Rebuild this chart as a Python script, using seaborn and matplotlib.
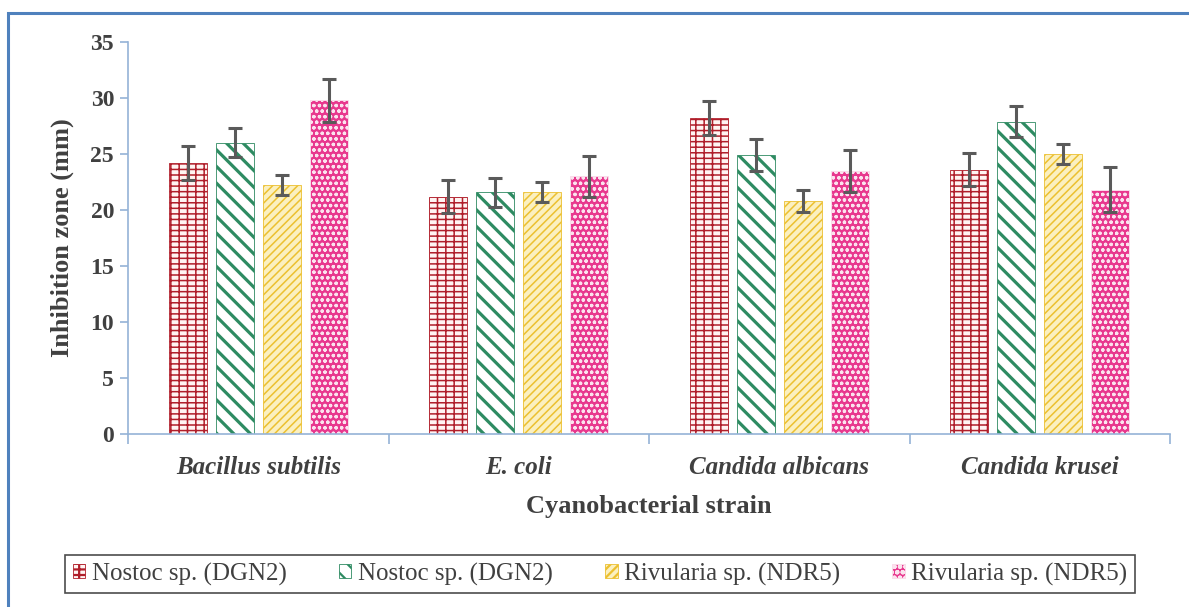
import pandas as pd
import matplotlib
matplotlib.use("Agg")
import matplotlib.pyplot as plt
import seaborn as sns
from matplotlib.patches import Rectangle

# --- datos ---
cepas = ["Bacillus subtilis", "E. coli", "Candida albicans", "Candida krusei"]
series = ["s1", "s2", "s3", "s4"]
etiquetas = ["Nostoc sp. (DGN2)", "Nostoc sp. (DGN2)",
             "Rivularia sp. (NDR5)", "Rivularia sp. (NDR5)"]

nostoc_a = [24.2, 21.2, 28.2, 23.6]
nostoc_b = [26.0, 21.6, 24.9, 27.9]
rivularia_a = [22.2, 21.6, 20.8, 25.0]
rivularia_b = [29.8, 23.0, 23.5, 21.8]

err_nostoc_a = [1.5, 1.5, 1.5, 1.5]
err_nostoc_b = [1.3, 1.3, 1.4, 1.4]
err_rivularia_a = [0.9, 0.9, 1.0, 0.9]
err_rivularia_b = [1.9, 1.8, 1.9, 2.0]

valores = [nostoc_a, nostoc_b, rivularia_a, rivularia_b]
errores = [err_nostoc_a, err_nostoc_b, err_rivularia_a, err_rivularia_b]

filas = []
for s, vals in zip(series, valores):
    for c, v in zip(cepas, vals):
        filas.append({"cepa": c, "serie": s, "valor": v})
datos = pd.DataFrame(filas)

# --- estilo ---
sns.set_style("white")
plt.rcParams["font.family"] = ["Liberation Serif", "DejaVu Serif"]
plt.rcParams["hatch.linewidth"] = 1.6

GRIS = "#404040"
AZUL_EJE = "#95B3D7"

# (face, hatch color, hatch, grosor de trama)
estilos = [
    ("#FFF4F2", "#B01E2A", "++-", 1.1),
    ("#FFFFFF", "#2E8B62", "\\\\", 2.3),
    ("#FBF0C0", "#ECC030", "////", 1.1),
    ("#E8388E", "#FBE3EE", "ooo", 0.9),
]

fig = plt.figure(figsize=(11.89, 6.07), dpi=100)
ax = fig.add_axes([128 / 1189, 1 - 434 / 607, (1170 - 128) / 1189, (434 - 42) / 607])

sns.barplot(data=datos, x="cepa", y="valor", hue="serie", order=cepas,
            hue_order=series, errorbar=None, width=0.72, gap=0.19,
            legend=False, ax=ax)

for cont, (face, hcol, hatch, hlw), errs, vals in zip(ax.containers, estilos, errores, valores):
    xs = []
    for bar in cont:
        bar.set_facecolor(face)
        bar.set_edgecolor(hcol)
        bar.set_hatch(hatch)
        if hasattr(bar, "set_hatch_linewidth"):
            bar.set_hatch_linewidth(hlw)
        bar.set_linewidth(0.6)
        xs.append(bar.get_x() + bar.get_width() / 2)
    ax.errorbar(xs, vals, yerr=errs, fmt="none", ecolor="#5A5A5A",
                elinewidth=2.2, capsize=5, capthick=2.2, zorder=5)

ax.set_xlim(-0.5, 3.5)
ax.set_ylim(0, 35)
ax.set_yticks(range(0, 36, 5))

for lado in ["top", "right"]:
    ax.spines[lado].set_visible(False)
for lado in ["left", "bottom"]:
    ax.spines[lado].set_color(AZUL_EJE)
    ax.spines[lado].set_linewidth(1.2)

ax.tick_params(axis="y", direction="out", length=6, width=1.2, color=AZUL_EJE,
               labelsize=17, labelcolor=GRIS, left=True, pad=4)
for t in ax.get_yticklabels():
    t.set_fontweight("bold")

ax.set_xticks([-0.5, 0.5, 1.5, 2.5, 3.5], minor=True)
ax.tick_params(axis="x", which="minor", direction="out", length=7, width=1.2,
               color=AZUL_EJE, bottom=True)
ax.tick_params(axis="x", which="major", length=0, pad=16, labelsize=18,
               labelcolor=GRIS)
ax.set_xticks(range(len(cepas)))
ax.set_xticklabels(cepas, fontstyle="italic", fontweight="bold")

ax.set_xlabel("Cyanobacterial strain", fontsize=19, fontweight="bold",
              color=GRIS, labelpad=11)
ax.set_ylabel("Inhibition zone (mm)", fontsize=19, fontweight="bold",
              color=GRIS, labelpad=12)

leyenda = fig.legend(ax.containers, etiquetas, loc="center",
                     bbox_to_anchor=(600 / 1189, 1 - 574 / 607), ncol=4,
                     fontsize=18, frameon=True, fancybox=False,
                     handlelength=0.5, handleheight=0.5, handletextpad=0.25,
                     columnspacing=2.1, borderpad=0.3, borderaxespad=0,
                     labelcolor=GRIS)
leyenda.get_frame().set_edgecolor("#202020")
leyenda.get_frame().set_linewidth(1.2)

# borde exterior azul
fig.add_artist(Rectangle((8 / 1189, -0.2), 1.5, 1 - 13 / 607 + 0.2,
                         transform=fig.transFigure, fill=False,
                         edgecolor="#4F81BD", linewidth=2.2, clip_on=False))

plt.savefig("out.png", dpi=100)
plt.close()
